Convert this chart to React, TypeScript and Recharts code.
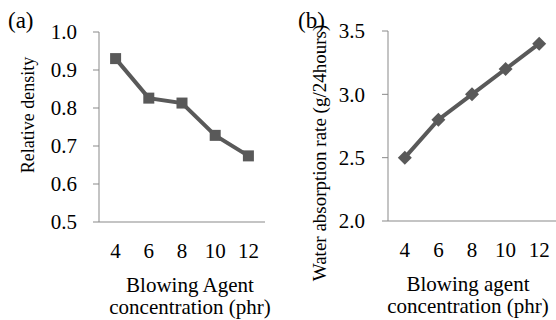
import React from 'react';
import { LineChart, Line, XAxis, YAxis } from 'recharts';

// blowing agent content (phr)
const concentrations = ['4', '6', '8', '10', '12'];
const relativeDensity = [0.93, 0.826, 0.813, 0.728, 0.674];
const waterAbsorption = [2.5, 2.8, 3.0, 3.2, 3.4];
const densityTicks = [0.5, 0.6, 0.7, 0.8, 0.9, 1.0];
const absorptionTicks = [2.0, 2.5, 3.0, 3.5];

const densityData = concentrations.map((c, i) => ({ phr: c, value: relativeDensity[i] }));
const absorptionData = concentrations.map((c, i) => ({ phr: c, value: waterAbsorption[i] }));

const FONT = 'Liberation Serif, Times New Roman, DejaVu Serif, serif';
const AXIS = '#898989';
const SERIES = '#595959';

const SquareDot = (p: any) => (
  <rect key={p.index} x={p.cx - 5.5} y={p.cy - 5.5} width={11} height={11} fill={SERIES} />
);

const DiamondDot = (p: any) => (
  <polygon
    key={p.index}
    points={`${p.cx},${p.cy - 7} ${p.cx + 7},${p.cy} ${p.cx},${p.cy + 7} ${p.cx - 7},${p.cy}`}
    fill={SERIES}
  />
);

const yTitle = (text: string, tag: string, tx: number, ty: number, size: number, tagX: number) => (p: any) => {
  const { y, height } = p.viewBox;
  const cy = y + height / 2 + ty;
  return (
    <g>
      <text
        x={tx}
        y={cy}
        transform={`rotate(-90, ${tx}, ${cy})`}
        textAnchor="middle"
        dominantBaseline="central"
        style={{ fontFamily: FONT, fontSize: size }}
        fill="#000"
      >
        {text}
      </text>
      <text x={tagX} y={28} style={{ fontFamily: FONT, fontSize: 23 }} fill="#000">
        {tag}
      </text>
    </g>
  );
};

const xTitle = (line1: string, line2: string, dx: number) => (p: any) => {
  const { x, y, width } = p.viewBox;
  const cx = x + width / 2 + dx;
  return (
    <text textAnchor="middle" style={{ fontFamily: FONT, fontSize: 21 }} fill="#000">
      <tspan x={cx} y={y + 70}>{line1}</tspan>
      <tspan x={cx} y={y + 92}>{line2}</tspan>
    </text>
  );
};

const tickStyle = { fill: '#000', style: { fontFamily: FONT, fontSize: 21 } };

export default function App() {
  return (
    <div style={{ position: 'absolute', left: 0, top: 0, width: 556, height: 320, background: '#fff', fontFamily: FONT }}>
      <div style={{ position: 'absolute', left: 0, top: 0 }}>
        <LineChart width={278} height={320} data={densityData} margin={{ top: 32, right: 13, bottom: 0, left: 0 }}>
          <XAxis
            dataKey="phr"
            height={98}
            padding={{ left: 16.6, right: 16.6 }}
            stroke={AXIS}
            tickLine={false}
            tickSize={6}
            tickMargin={15}
            tick={tickStyle}
            interval={0}
            label={xTitle('Blowing Agent', 'concentration (phr)', 8)}
          />
          <YAxis
            width={99}
            domain={[0.5, 1.0]}
            ticks={densityTicks}
            tickFormatter={(v: number) => v.toFixed(1)}
            stroke={AXIS}
            tickSize={6}
            tickMargin={16}
            tick={tickStyle}
            allowDataOverflow
            label={yTitle('Relative density', '(a)', 28, -12, 18, 8)}
          />
          <Line
            dataKey="value"
            stroke={SERIES}
            strokeWidth={4}
            dot={SquareDot}
            activeDot={false}
            isAnimationActive={false}
          />
        </LineChart>
      </div>
      <div style={{ position: 'absolute', left: 278, top: 0 }}>
        <LineChart width={278} height={320} data={absorptionData} margin={{ top: 31, right: 0, bottom: 0, left: 0 }}>
          <XAxis
            dataKey="phr"
            height={99}
            padding={{ left: 16.8, right: 16.8 }}
            stroke={AXIS}
            tickLine={false}
            tickSize={6}
            tickMargin={15}
            tick={tickStyle}
            interval={0}
            label={xTitle('Blowing agent', 'concentration (phr)', -4)}
          />
          <YAxis
            width={110}
            domain={[2.0, 3.5]}
            ticks={absorptionTicks}
            tickFormatter={(v: number) => v.toFixed(1)}
            stroke={AXIS}
            tickSize={6}
            tickMargin={17}
            tick={tickStyle}
            allowDataOverflow
            label={yTitle('Water absorption rate (g/24hours)', '(b)', 41, 27, 19, 20)}
          />
          <Line
            dataKey="value"
            stroke={SERIES}
            strokeWidth={4}
            dot={DiamondDot}
            activeDot={false}
            isAnimationActive={false}
          />
        </LineChart>
      </div>
    </div>
  );
}
